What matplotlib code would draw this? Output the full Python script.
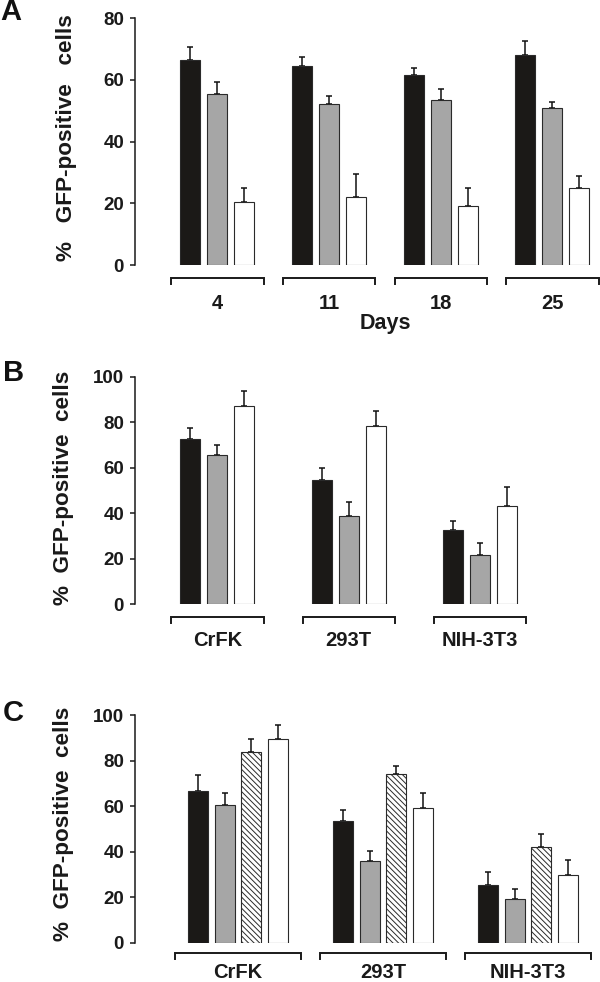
import numpy as np
import matplotlib
matplotlib.use('Agg')
import matplotlib.pyplot as plt

plt.rcParams['font.family'] = ['Liberation Sans', 'DejaVu Sans']
plt.rcParams['font.weight'] = 'bold'
plt.rcParams['hatch.linewidth'] = 0.7

# panel A - time course
days = ['4', '11', '18', '25']
a_black = [66.5, 64.6, 61.7, 68.2]
a_black_err = [4.3, 2.7, 2.3, 4.4]
a_gray = [55.4, 52.2, 53.5, 50.9]
a_gray_err = [3.9, 2.5, 3.5, 1.8]
a_white = [20.3, 21.9, 19.0, 25.1]
a_white_err = [4.7, 7.5, 6.0, 3.8]

# panel B - cell lines
cells = ['CrFK', '293T', 'NIH-3T3']
b_black = [72.5, 54.6, 32.5]
b_black_err = [5.1, 5.4, 4.0]
b_gray = [65.6, 38.7, 21.7]
b_gray_err = [4.4, 6.4, 5.1]
b_white = [87.3, 78.3, 43.0]
b_white_err = [6.4, 6.5, 8.4]

# panel C - cell lines, four conditions
c_black = [66.8, 53.3, 25.5]
c_black_err = [6.7, 4.8, 5.7]
c_gray = [60.3, 35.9, 19.2]
c_gray_err = [5.6, 4.5, 4.4]
c_hatch = [83.7, 74.2, 42.0]
c_hatch_err = [5.9, 3.5, 5.9]
c_white = [89.3, 59.3, 29.9]
c_white_err = [6.2, 6.6, 6.4]

ylabel = '%  GFP-positive  cells'

W, H = 600, 982
fig = plt.figure(figsize=(W / 100, H / 100), dpi=100)
fig.patch.set_facecolor('white')


def px_axes(left, top, right, bottom):
    return fig.add_axes([left / W, 1 - bottom / H, (right - left) / W, (bottom - top) / H])


def draw_panel(ax, top, bot, ymax, labels, series, c0, spacing, step, half, br_px, lab_px):
    #bars + error bars (only upward)
    n = len(labels)
    m = len(series)
    for j, (vals, errs, fc, hatch) in enumerate(series):
        x = c0 + spacing * np.arange(n) + (j - (m - 1) / 2) * step
        ax.bar(x, vals, width=20, color=fc, edgecolor='#2a2a2a', linewidth=0.8,
               hatch=hatch, zorder=2)
        ax.errorbar(x, vals, yerr=[np.zeros(n), errs], fmt='none', ecolor='#111111',
                    elinewidth=1.1, capsize=2.5, capthick=1.1, zorder=1)
    ax.set_xlim(135, 600)
    ax.set_ylim(0, ymax)
    ax.set_yticks(np.arange(0, ymax + 1, 20))
    ax.set_xticks([])
    for s in ['top', 'right', 'bottom']:
        ax.spines[s].set_visible(False)
    ax.spines['left'].set_linewidth(1.1)
    ax.spines['left'].set_color('#1a1a1a')
    ax.tick_params(axis='y', direction='out', length=3.6, width=1.1, pad=4.3,
                   labelsize=13.5, colors='#1a1a1a')
    #brackets under each group
    h = bot - top
    trans = ax.get_xaxis_transform()
    y1 = -br_px / h
    y2 = -(br_px + 6) / h
    for i, lab in enumerate(labels):
        xc = c0 + spacing * i
        ax.plot([xc - half, xc - half, xc + half, xc + half], [y2, y1, y1, y2],
                transform=trans, color='#1a1a1a', lw=1.4, clip_on=False,
                solid_joinstyle='miter')
        ax.text(xc, -lab_px / h, lab, transform=trans, ha='center', va='baseline',
                fontsize=14.5, fontweight='bold', color='#1a1a1a')


# A
axA = px_axes(135, 18.3, 600, 265)
draw_panel(axA, 18.3, 265, 80, days,
           [(a_black, a_black_err, '#1b1917', None),
            (a_gray, a_gray_err, '#a6a6a6', None),
            (a_white, a_white_err, 'white', None)],
           217.3, 111.7, 27, 46.2, 13.3, 44.3)
fig.text(385.6 / W, 1 - 324 / H, 'Days', ha='center', va='center', fontsize=15.5,
         fontweight='bold', color='#1a1a1a')
fig.text(66.7 / W, 1 - 138 / H, '%   GFP-positive   cells', rotation=90, ha='center',
         va='center', fontsize=16.2, fontweight='bold', color='#1a1a1a')

# B
axB = px_axes(135, 376.7, 600, 604.3)
draw_panel(axB, 376.7, 604.3, 100, cells,
           [(b_black, b_black_err, '#1b1917', None),
            (b_gray, b_gray_err, '#a6a6a6', None),
            (b_white, b_white_err, 'white', None)],
           217.3, 131.4, 27, 46.2, 12.4, 41.4)
fig.text(64 / W, 1 - 487.5 / H, ylabel, rotation=90, ha='center', va='center',
         fontsize=16.2, fontweight='bold', color='#1a1a1a')

# C
axC = px_axes(135, 715, 600, 942.7)
draw_panel(axC, 715, 942.7, 100, cells,
           [(c_black, c_black_err, '#1b1917', None),
            (c_gray, c_gray_err, '#a6a6a6', None),
            (c_hatch, c_hatch_err, 'white', '\\\\\\\\\\\\'),
            (c_white, c_white_err, 'white', None)],
           238, 145, 26.9, 63, 10, 35.5)
fig.text(64 / W, 1 - 824 / H, ylabel, rotation=90, ha='center', va='center',
         fontsize=16.2, fontweight='bold', color='#1a1a1a')

# panel letters
for lab, x, y in [('A', 10.5, 12.5), ('B', 13.8, 373.3), ('C', 13.4, 713)]:
    fig.text(x / W, 1 - y / H, lab, ha='center', va='center', fontsize=21,
             fontweight='bold', color='#111111')

fig.savefig('out.png', dpi=100)
